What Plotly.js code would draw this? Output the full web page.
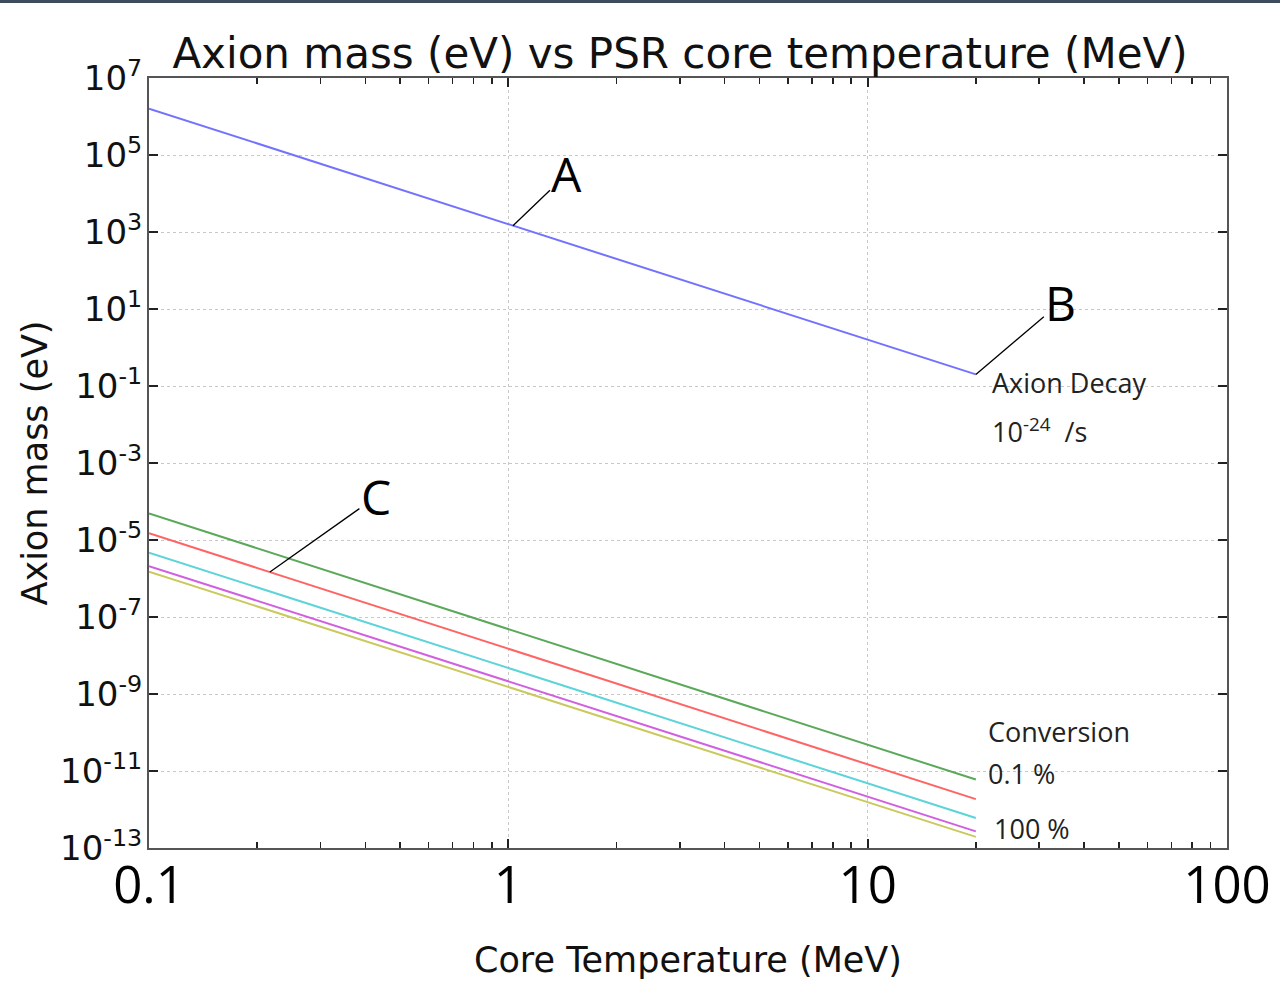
<!DOCTYPE html>
<html>
<head>
<meta charset="utf-8">
<script src="https://cdn.plot.ly/plotly-3.0.1.min.js"></script>
<style>
html,body{margin:0;padding:0;background:#fff;}
#bar{position:absolute;left:0;top:0;width:1280px;height:3px;background:#3d4b5c;z-index:5;}
#chart{width:1280px;height:999px;}
</style>
</head>
<body>
<div id="bar"></div>
<div id="chart"></div>
<script>
// Core temperature (MeV) sample points
const temperature = [0.1, 1, 10, 20];

// Axion mass (eV) for each curve
const axionDecay   = [1.6e6, 1.6e3, 1.6, 0.2];
const conv01       = [4.9e-5, 4.9e-8, 4.9e-11, 6.0e-12];   // green
const convRed      = [1.5e-5, 1.5e-8, 1.5e-11, 1.86e-12];  // red
const convCyan     = [4.7e-6, 4.7e-9, 4.7e-12, 6.0e-13];   // cyan
const convMagenta  = [2.1e-6, 2.1e-9, 2.1e-12, 2.7e-13];   // magenta
const conv100      = [1.5e-6, 1.5e-9, 1.5e-12, 1.95e-13];  // yellow

// tick labels
const xTickVals = [0.1, 1, 10, 100];
const xTickText = ['0.1', '1', '10', '100'];
const yExponents = [7, 5, 3, 1, -1, -3, -5, -7, -9, -11, -13];
const yTickVals = yExponents.map(e => Math.pow(10, e));
const yTickText = yExponents.map(e => '10<sup>' + e + '</sup>');

const xMinor = [];
[0.1, 1, 10].forEach(d => { for (let k = 2; k <= 9; k++) xMinor.push(d * k); });

function line(y, color) {
  return {x: temperature, y: y, type: 'scatter', mode: 'lines',
          line: {color: color, width: 2}, showlegend: false, hoverinfo: 'skip'};
}

const data = [
  line(axionDecay, '#7272ff'),
  line(conv01, '#5aa85a'),
  line(convRed, '#ff6464'),
  line(convCyan, '#5cd4d8'),
  line(convMagenta, '#d060e0'),
  line(conv100, '#c9c95e')
];

const L = 149, R = 1227, T = 78, B = 848;
function px(xp) { return (xp - L) / (R - L); }
function py(yp) { return (B - yp) / (B - T); }

const noteFont = {family: 'Open Sans, sans-serif', size: 27, color: '#222'};
const letterFont = {family: 'Open Sans, sans-serif', size: 48, color: '#000'};

const annotations = [
  {x: Math.log10(1.03), y: Math.log10(1.45e3), xref: 'x', yref: 'y', text: 'A', font: letterFont,
   showarrow: true, arrowhead: 0, arrowwidth: 1.3, arrowcolor: '#000', ax: 54, ay: -52},
  {x: Math.log10(20), y: Math.log10(0.2), xref: 'x', yref: 'y', text: 'B', font: letterFont,
   showarrow: true, arrowhead: 0, arrowwidth: 1.3, arrowcolor: '#000', ax: 85, ay: -72},
  {x: Math.log10(0.217), y: Math.log10(1.48e-6), xref: 'x', yref: 'y', text: 'C', font: letterFont,
   showarrow: true, arrowhead: 0, arrowwidth: 1.3, arrowcolor: '#000', ax: 106, ay: -75},
  {x: px(990), y: py(382), xref: 'paper', yref: 'paper', xanchor: 'left', yanchor: 'middle',
   text: 'Axion Decay', font: noteFont, showarrow: false},
  {x: px(990), y: py(430), xref: 'paper', yref: 'paper', xanchor: 'left', yanchor: 'middle',
   text: '10<sup>-24</sup>  /s', font: noteFont, showarrow: false},
  {x: px(986), y: py(731), xref: 'paper', yref: 'paper', xanchor: 'left', yanchor: 'middle',
   text: 'Conversion', font: noteFont, showarrow: false},
  {x: px(986), y: py(773), xref: 'paper', yref: 'paper', xanchor: 'left', yanchor: 'middle',
   text: '0.1 %', font: noteFont, showarrow: false},
  {x: px(992), y: py(828), xref: 'paper', yref: 'paper', xanchor: 'left', yanchor: 'middle',
   text: '100 %', font: noteFont, showarrow: false}
];

const layout = {
  width: 1280, height: 999,
  margin: {l: L, r: 1280 - R, t: T, b: 999 - B},
  paper_bgcolor: '#fff', plot_bgcolor: '#fff',
  title: {text: 'Axion mass (eV) vs PSR core temperature (MeV)',
          font: {family: 'DejaVu Sans, sans-serif', size: 42, color: '#111'},
          x: 680/1280, xref: 'container', xanchor: 'center', y: 1 - 53/999, yref: 'container', yanchor: 'middle'},
  xaxis: {
    type: 'log', range: [-1, 2],
    tickmode: 'array', tickvals: xTickVals, ticktext: xTickText,
    tickfont: {family: 'Open Sans, sans-serif', size: 51, color: '#000'},
    ticklabelstandoff: -8,
    ticks: 'inside', ticklen: 9, tickwidth: 2, tickcolor: '#222',
    minor: {tickmode: 'array', tickvals: xMinor, ticks: 'inside', ticklen: 6, tickwidth: 1.5, tickcolor: '#222', showgrid: false},
    showline: true, linecolor: '#555', linewidth: 2, mirror: 'allticks',
    showgrid: true, gridcolor: '#c8c8c8', griddash: 'dot', gridwidth: 1,
    zeroline: false,
    title: {text: 'Core Temperature (MeV)', font: {family: 'DejaVu Sans, sans-serif', size: 35, color: '#111'}, standoff: 30}
  },
  yaxis: {
    type: 'log', range: [-13, 7],
    tickmode: 'array', tickvals: yTickVals, ticktext: yTickText,
    tickfont: {family: 'DejaVu Sans, sans-serif', size: 34, color: '#111'},
    ticklabelstandoff: -2,
    ticks: 'inside', ticklen: 9, tickwidth: 2, tickcolor: '#222',
    showline: true, linecolor: '#555', linewidth: 2, mirror: 'allticks',
    showgrid: true, gridcolor: '#c8c8c8', griddash: 'dot', gridwidth: 1,
    zeroline: false,
    title: {text: 'Axion mass (eV)', font: {family: 'DejaVu Sans, sans-serif', size: 35, color: '#111'}, standoff: 2}
  },
  annotations: annotations
};

Plotly.newPlot('chart', data, layout, {displayModeBar: false, staticPlot: true});
</script>
</body>
</html>
